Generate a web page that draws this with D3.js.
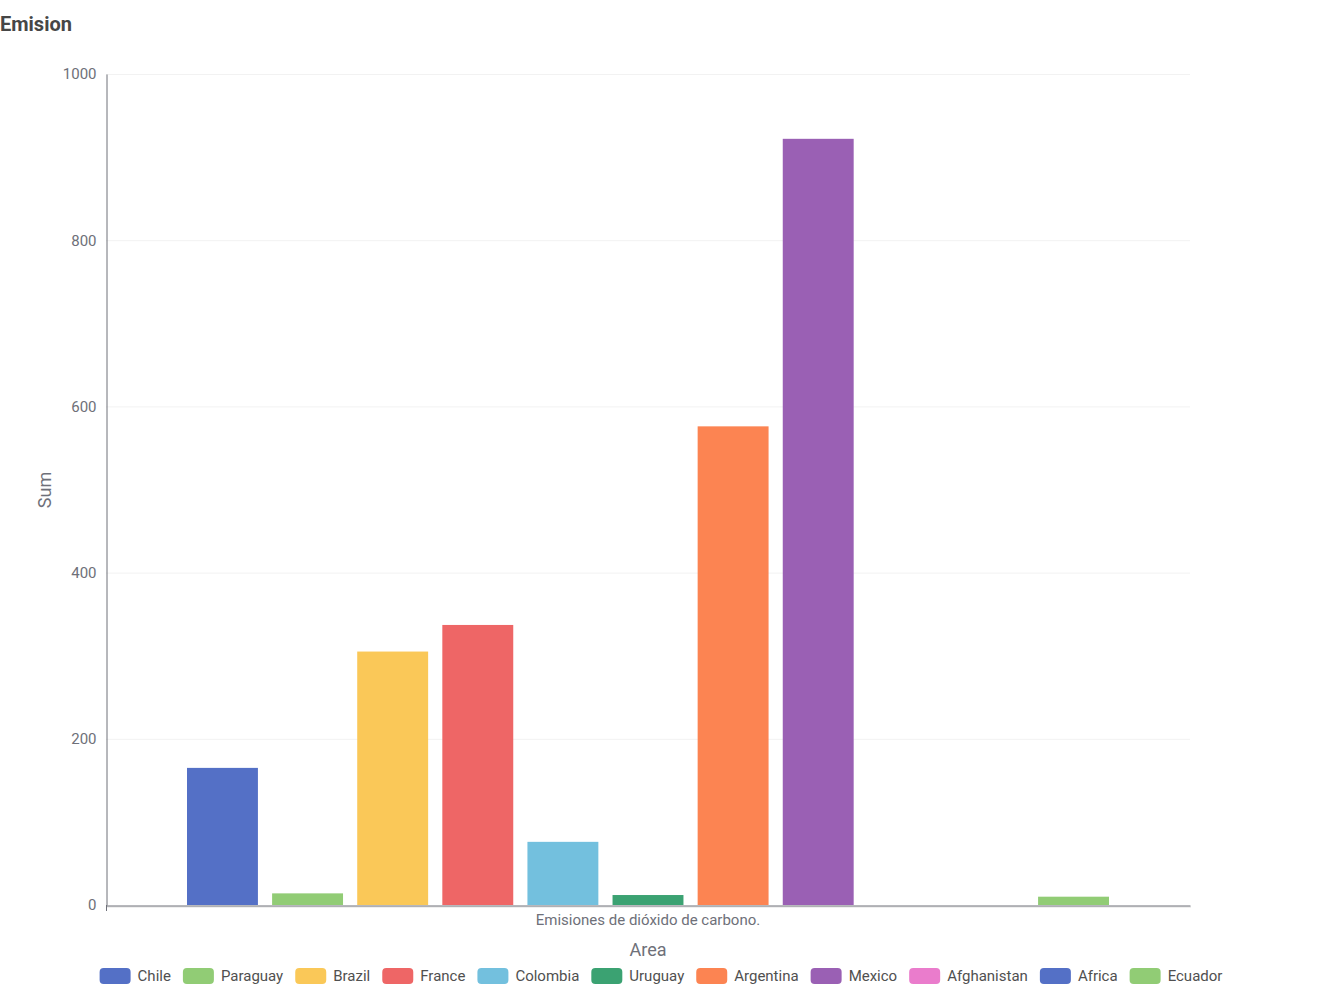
<!DOCTYPE html>
<html><head><meta charset="utf-8">
<script src="https://cdn.jsdelivr.net/npm/d3@7"></script>
<style>body{margin:0;background:#fff;font-family:Roboto,"Noto Sans",sans-serif}</style>
</head><body><svg id="c" width="1322" height="992"></svg>
<script>
const categories = ["Emisiones de dióxido de carbono."];
const seriesNames = ["Chile","Paraguay","Brazil","France","Colombia","Uruguay","Argentina","Mexico","Afghanistan","Africa","Ecuador"];
const seriesValues = [165, 14, 305, 337, 76, 12, 576, 922, 0, 0, 10];
const colors = ["#5470c6","#91cc75","#fac858","#ee6666","#73c0de","#3ba272","#fc8452","#9a60b4","#ea7ccc","#5470c6","#91cc75"];
const yTicks = [0,200,400,600,800,1000];

const svg = d3.select("#c");
const L = 106, R = 1190, T = 74, B = 905;
const y = d3.scaleLinear().domain([0,1000]).range([B,T]);
const x0 = d3.scaleBand().domain(categories).range([L,R]).paddingInner(0).paddingOuter(81/922);
const x1 = d3.scaleBand().domain(seriesNames).range([0,x0.bandwidth()]).paddingInner(0.2/1.2).paddingOuter(0);

svg.append("text").attr("x",0).attr("y",31).attr("font-size",20).attr("font-weight","bold").attr("fill","#464646").text("Emision");

// grid
svg.append("g").selectAll("line").data(yTicks.filter(d=>d>0)).join("line")
  .attr("x1",L).attr("x2",R).attr("y1",d=>y(d)+0.5).attr("y2",d=>y(d)+0.5)
  .attr("stroke","#f2f2f2").attr("stroke-width",1);

// y axis
const ya = svg.append("g").attr("transform",`translate(${L+0.5},0)`)
  .call(d3.axisLeft(y).tickValues(yTicks).tickFormat(d3.format("d")).tickSize(0).tickPadding(10));
ya.select(".domain").attr("stroke","#6e7079");
ya.selectAll("text").attr("font-size",15).attr("fill","#6e7079").attr("font-family","Roboto");

// bars
svg.append("g").selectAll("rect").data(seriesNames.map((n,i)=>({n,v:seriesValues[i],c:colors[i]}))).join("rect")
  .attr("x",d=>x0(categories[0])+x1(d.n)).attr("width",x1.bandwidth())
  .attr("y",d=>y(d.v)).attr("height",d=>B-y(d.v)).attr("fill",d=>d.c);

// x axis
svg.append("line").attr("x1",L).attr("x2",R+1).attr("y1",B+2).attr("y2",B+2).attr("stroke","#e0e0e0");
const xa = svg.append("g").attr("transform",`translate(0,${B+0.5})`)
  .call(d3.axisBottom(x0).tickSize(0).tickPadding(9));
xa.select(".domain").attr("stroke","#6e7079");
xa.selectAll("text").attr("font-size",15).attr("fill","#6e7079").attr("font-family","Roboto");
svg.append("line").attr("x1",L+0.5).attr("x2",L+0.5).attr("y1",B).attr("y2",B+6).attr("stroke","#6e7079");

svg.append("text").attr("x",648).attr("y",956).attr("text-anchor","middle").attr("font-size",18).attr("fill","#6e7079").text("Area");
svg.append("text").attr("transform","translate(51,490) rotate(-90)").attr("text-anchor","middle").attr("font-size",18).attr("fill","#6e7079").text("Sum");

// legend
const lg = svg.append("g");
let cx = 0;
seriesNames.forEach((n,i)=>{
  const g = lg.append("g").attr("transform",`translate(${cx},0)`);
  g.append("rect").attr("x",0).attr("y",-8).attr("width",31).attr("height",16).attr("rx",4).attr("fill",colors[i]);
  const t = g.append("text").attr("x",38).attr("y",5).attr("font-size",15).attr("fill","#505050").text(n);
  const w = 38 + t.node().getComputedTextLength();
  cx += w + 12;
});
const total = cx - 12;
lg.attr("transform",`translate(${661 - total/2},976)`);
</script></body></html>
